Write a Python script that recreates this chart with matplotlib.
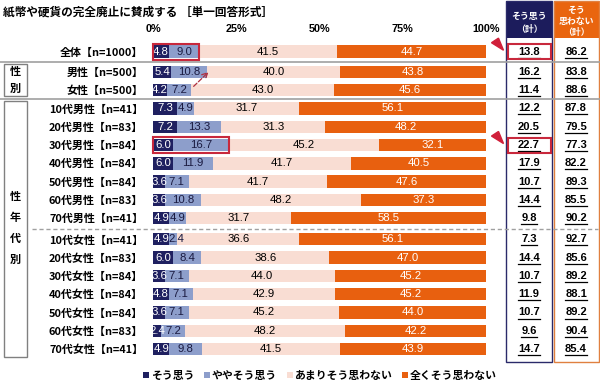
import numpy as np
import matplotlib
matplotlib.use("Agg")
import matplotlib.pyplot as plt
from matplotlib.patches import Rectangle, Polygon

plt.rcParams["font.family"] = ["Noto Sans CJK JP", "DejaVu Sans"]

# DATA:
title = "紙幣や硬貨の完全廃止に賛成する ［単一回答形式］"
row_labels = [
    "全体【n=1000】", "男性【n=500】", "女性【n=500】",
    "10代男性【n=41】", "20代男性【n=83】", "30代男性【n=84】", "40代男性【n=84】",
    "50代男性【n=84】", "60代男性【n=83】", "70代男性【n=41】",
    "10代女性【n=41】", "20代女性【n=83】", "30代女性【n=84】", "40代女性【n=84】",
    "50代女性【n=84】", "60代女性【n=83】", "70代女性【n=41】",
]
series_names = ["そう思う", "ややそう思う", "あまりそう思わない", "全くそう思わない"]
sou_omou = [4.8, 5.4, 4.2, 7.3, 7.2, 6.0, 6.0, 3.6, 3.6, 4.9, 4.9, 6.0, 3.6, 4.8, 3.6, 2.4, 4.9]
yaya_sou_omou = [9.0, 10.8, 7.2, 4.9, 13.3, 16.7, 11.9, 7.1, 10.8, 4.9, 2.4, 8.4, 7.1, 7.1, 7.1, 7.2, 9.8]
amari_omowanai = [41.5, 40.0, 43.0, 31.7, 31.3, 45.2, 41.7, 41.7, 48.2, 31.7, 36.6, 38.6, 44.0, 42.9, 45.2, 48.2, 41.5]
mattaku_omowanai = [44.7, 43.8, 45.6, 56.1, 48.2, 32.1, 40.5, 47.6, 37.3, 58.5, 56.1, 47.0, 45.2, 45.2, 44.0, 42.2, 43.9]
total_agree = [13.8, 16.2, 11.4, 12.2, 20.5, 22.7, 17.9, 10.7, 14.4, 9.8, 7.3, 14.4, 10.7, 11.9, 10.7, 9.6, 14.7]
total_disagree = [86.2, 83.8, 88.6, 87.8, 79.5, 77.3, 82.2, 89.3, 85.5, 90.2, 92.7, 85.6, 89.2, 88.1, 89.2, 90.4, 85.4]
x_ticks = [0, 25, 50, 75, 100]
highlight_rows = [0, 5]

# STYLE:
colors = ["#1f2060", "#8d9ecb", "#f9ddd3", "#e8600f"]
label_colors = ["white", "#1a1a40", "black", "white"]
red = "#c8283c"
navy = "#1c1c5c"
orange = "#e9650f"

# row positions: small extra gap after 全体 and between the male / female blocks
gaps = np.array([0.0] + [0.1] * 9 + [0.25] * 7)
ypos = np.arange(len(row_labels)) + gaps

fig = plt.figure(figsize=(6, 3.91), dpi=100)

# pixel-coordinate layer for the frames and headers
deco = fig.add_axes([0, 0, 1, 1])
deco.set_xlim(0, 600)
deco.set_ylim(391, 0)
deco.axis("off")

ax = fig.add_axes([153 / 600, 1 - 360 / 391, 333 / 600, 320 / 391])
ax.patch.set_visible(False)

# BARS:
left = np.zeros(len(row_labels))
for k, (vals, name, c, tc) in enumerate(zip([sou_omou, yaya_sou_omou, amari_omowanai, mattaku_omowanai],
                                            series_names, colors, label_colors)):
    vals = np.array(vals)
    ax.barh(ypos, vals, left=left, height=0.68, color=c, label=name, zorder=2)
    for y, l, v in zip(ypos, left, vals):
        x = l + v / 2
        if k > 0:
            x = max(x, l + 2.2)  # keep narrow segment labels off the previous one
        ax.text(x, y, f"{v:.1f}", ha="center", va="center", color=tc, fontsize=8.2,
                fontfamily="Liberation Sans", zorder=3)
    left += vals

ax.set_xlim(0, 100)
ax.set_ylim(16.847, -0.639)
ax.xaxis.tick_top()
ax.set_xticks(x_ticks, [f"{t}%" for t in x_ticks])
ax.tick_params(axis="x", length=0, pad=4, labelsize=7.8)
for lab in ax.get_xticklabels():
    lab.set_fontweight("bold")
    lab.set_fontfamily("Liberation Sans")
ax.set_yticks(ypos, row_labels)
ax.tick_params(axis="y", length=0, pad=7, labelsize=7.9)
for lab in ax.get_yticklabels():
    lab.set_fontweight("bold")
for s in ax.spines.values():
    s.set_visible(False)

# separators
for y in [(ypos[0] + ypos[1]) / 2, (ypos[2] + ypos[3]) / 2]:
    ax.axhline(y, xmin=-0.46, xmax=1.35, color="#a0a0a0", lw=1.2, clip_on=False)
ax.axhline((ypos[9] + ypos[10]) / 2, xmin=-0.363, xmax=1.336, color="#a0a0a0",
           lw=1.0, ls=(0, (3, 2)), clip_on=False)

# group boxes on the left
deco.add_patch(Rectangle((4, 64), 23, 32, fill=False, ec="#808080", lw=1))
deco.add_patch(Rectangle((4, 101), 23, 256, fill=False, ec="#808080", lw=1))
deco.text(15.5, 80, "性\n別", ha="center", va="center", fontsize=8, fontweight="bold", linespacing=1.4)
deco.text(15.5, 228, "性\n年\n代\n別", ha="center", va="center", fontsize=8, fontweight="bold", linespacing=1.8)

# TABLE:
deco.add_patch(Rectangle((506, 1), 46, 37, color=navy, lw=0))
deco.add_patch(Rectangle((506, 1), 46, 361, fill=False, ec="#2a2a6a", lw=1))
deco.add_patch(Rectangle((554, 1), 45, 37, color=orange, lw=0))
deco.add_patch(Rectangle((554, 1), 45, 361, fill=False, ec="#e08040", lw=1))
deco.text(529, 23, "そう思う\n（計）", color="white", ha="center", va="center",
          fontsize=6.4, fontweight="bold", linespacing=1.5)
deco.text(576.5, 21.5, "そう\n思わない\n（計）", color="white", ha="center", va="center",
          fontsize=6.4, fontweight="bold", linespacing=1.35)

ytrans = ax.get_yaxis_transform()
for col_px, col_vals in [(529, total_agree), (576, total_disagree)]:
    cx = (col_px - 153) / 333
    for y, v in zip(ypos, col_vals):
        s = f"{v:.1f}"
        ax.text(cx, y, s, transform=ytrans, ha="center", va="center", fontsize=8,
                fontweight="bold", fontfamily="Liberation Sans", clip_on=False)
        # underline, width follows the number of characters
        half = (6.2 * (len(s) - 1) + 3.1) / 2 / 333
        ax.plot([cx - half, cx + half], [y + 0.33, y + 0.33], color="black", lw=0.9,
                transform=ytrans, clip_on=False)

# HIGHLIGHTS:
for i in highlight_rows:
    ax.add_patch(Rectangle((0, ypos[i] - 0.44), total_agree[i], 0.88, fill=False,
                           ec=red, lw=1.5, zorder=4, clip_on=False))
    ax.add_patch(Rectangle(((508 - 153) / 333, ypos[i] - 0.41), 43 / 333, 0.82, fill=False,
                           ec=red, lw=1.5, transform=ytrans, clip_on=False, zorder=4))
    ax.add_patch(Polygon([(1.0165, ypos[i] - 0.49), (1.0375, ypos[i] - 0.74), (1.0526, ypos[i] - 0.08)],
                         closed=True, color="#d0203a", transform=ytrans, clip_on=False, zorder=4))

ax.annotate("", xy=(17.3, ypos[1] - 0.1), xytext=(11.6, ypos[2] - 0.1),
            arrowprops=dict(arrowstyle="->", ls="--", color="#b03040", lw=0.9), zorder=4)

# TITLE / LEGEND:
fig.text(3 / 600, 1 - 12 / 391, title, fontsize=8.4, fontweight="bold", va="center")
ax.legend(loc="center", bbox_to_anchor=(320 / 600, 1 - 376 / 391), bbox_transform=fig.transFigure,
          ncol=4, frameon=False, handlelength=0.55, handleheight=0.55, handletextpad=0.15,
          columnspacing=0.9, prop={"weight": "bold", "size": 7.8})

fig.savefig("out.png", dpi=100)
